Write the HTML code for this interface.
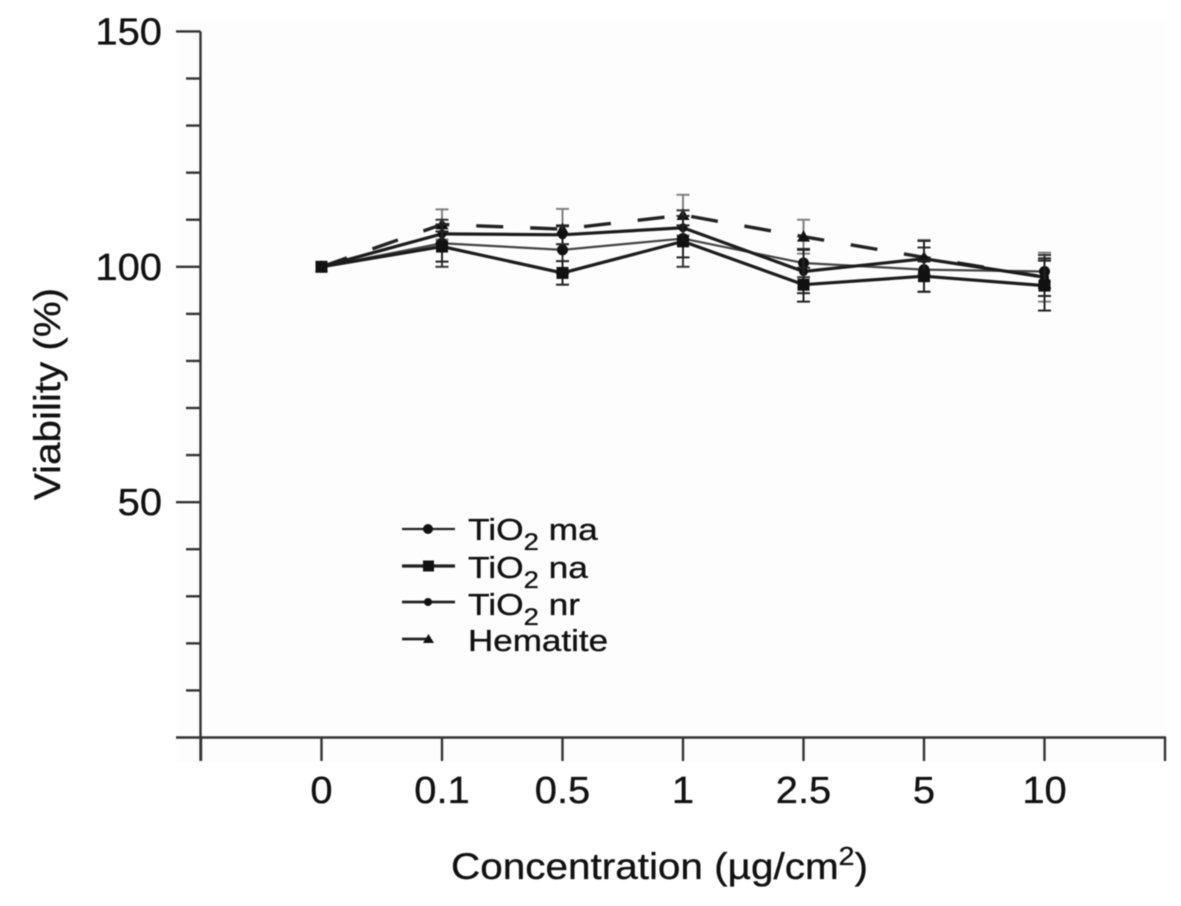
<!DOCTYPE html>
<html lang="en">
<head>
<meta charset="utf-8">
<title>Viability chart</title>
<style>
  html, body { margin: 0; padding: 0; background: #ffffff; }
  body { width: 1181px; height: 906px; overflow: hidden; }
  svg { display: block; filter: blur(0.6px); }
  text { font-family: "Liberation Sans", sans-serif; fill: #111; stroke: #111; stroke-width: 0.35px; }
</style>
</head>
<body>
<svg id="chart" xmlns="http://www.w3.org/2000/svg" width="1181" height="906" viewBox="0 0 1181 906">
  <rect x="176" y="20" width="992" height="742" fill="#fdfdfd"/>
  <g id="axes"></g>
  <g id="series"></g>

  <g stroke-linecap="butt">
    <g>
      <line x1="402" y1="529" x2="455" y2="529" stroke="#222" stroke-width="2.2"/>
      <circle cx="428" cy="529" r="5" fill="#111"/>
      <text transform="translate(468,540) scale(1.14,1)" font-size="31">TiO<tspan font-size="24" dy="10">2</tspan><tspan dy="-10"> ma</tspan></text>
    </g>
    <g>
      <line x1="402" y1="566" x2="455" y2="566" stroke="#222" stroke-width="3.2"/>
      <rect x="423" y="560.5" width="11" height="11" fill="#111"/>
      <text transform="translate(468,578) scale(1.14,1)" font-size="31">TiO<tspan font-size="24" dy="10">2</tspan><tspan dy="-10"> na</tspan></text>
    </g>
    <g>
      <line x1="402" y1="602" x2="455" y2="602" stroke="#222" stroke-width="2.8"/>
      <circle cx="428" cy="602" r="4" fill="#111"/>
      <text transform="translate(468,615) scale(1.14,1)" font-size="31">TiO<tspan font-size="24" dy="10">2</tspan><tspan dy="-10"> nr</tspan></text>
    </g>
    <g>
      <line x1="402" y1="639" x2="430" y2="639" stroke="#222" stroke-width="2.8"/>
      <polygon points="423,643 434,643 428.5,634" fill="#111"/>
      <text transform="translate(468,651) scale(1.13,1)" font-size="31">Hematite</text>
    </g>
  </g>

  <text transform="translate(451,879) scale(1.094,1)" font-size="37">Concentration (µg/cm<tspan font-size="26" dy="-14">2</tspan><tspan dy="14">)</tspan></text>
  <text transform="translate(60,500) rotate(-90) scale(1.09,1)" font-size="37">Viability (%)</text>
</svg>

<script>
const categories = ["0", "0.1", "0.5", "1", "2.5", "5", "10"];
const yMajorTicks = [50, 100, 150];
const yAllTicks = [0, 10, 20, 30, 40, 50, 60, 70, 80, 90, 100, 110, 120, 130, 140, 150];

const hematiteValues = [100, 109, 108, 111, 106.4, 102, 97.8];
const hematiteErrors = [0, 3.2, 4.3, 4.3, 3.6, 3.7, 5.2];
const maValues = [100, 105, 103.6, 106, 100.8, 99.4, 99];
const maErrors = [0, 5, 5, 6, 3, 4.7, 3.5];
const naValues = [100, 104.3, 98.7, 105.4, 96.2, 98, 96];
const naErrors = [0, 3.2, 2.5, 3.4, 3.6, 3.3, 5.3];
const nrValues = [100, 107, 106.8, 108.3, 99, 101.7, 97.8];
const nrErrors = [0, 2, 2, 2.5, 4.6, 3.8, 4];

const SVG_NS = "http://www.w3.org/2000/svg";
const axesGroup = document.getElementById("axes");
const seriesGroup = document.getElementById("series");

function xScale(index) { return 321.5 + index * 120.5; }
function yScale(value) { return 737.5 - value * 4.707; }

function make(tag, attrs, parent) {
  const el = document.createElementNS(SVG_NS, tag);
  for (const key in attrs) el.setAttribute(key, attrs[key]);
  parent.appendChild(el);
  return el;
}

/* Axes */
const axisStyle = { stroke: "#333", "stroke-width": 2.4 };
const yAxisLine = make("line", { x1: 200.5, y1: yScale(150), x2: 200.5, y2: 761, ...axisStyle }, axesGroup);


const xAxisLine = make("line", { x1: 176, y1: yScale(0), x2: 1166, y2: yScale(0), ...axisStyle }, axesGroup);



yAllTicks.forEach(function (v) {
  if (v === 0) return;
  const isMajor = yMajorTicks.includes(v);
  const tick = make("line", { x1: isMajor ? 176 : 186, y1: yScale(v), x2: 200.5, y2: yScale(v), ...axisStyle }, axesGroup);
  
  
});

yMajorTicks.forEach(function (v) {
  const label = make("text", { transform: "translate(162," + (yScale(v) + 13) + ") scale(1.05,1)", "font-size": 38, "text-anchor": "end" }, axesGroup);
  label.textContent = String(v);
  
  
});

[-1, 7].forEach(function (i) {
  const tick = make("line", { x1: xScale(i), y1: yScale(0), x2: xScale(i), y2: 761, ...axisStyle }, axesGroup);
  
  
});

categories.forEach(function (c, i) {
  const tick = make("line", { x1: xScale(i), y1: yScale(0), x2: xScale(i), y2: 761, ...axisStyle }, axesGroup);
  
  
  const label = make("text", { transform: "translate(" + xScale(i) + ",803) scale(1.05,1)", "font-size": 38, "text-anchor": "middle" }, axesGroup);
  label.textContent = c;
  
  
});

/* Series */
function drawErrors(values, errors, color, group) {
  values.forEach(function (v, i) {
    if (!errors[i]) return;
    const x = xScale(i);
    const top = yScale(v + errors[i]);
    const bottom = yScale(v - errors[i]);
    const style = { stroke: color, "stroke-width": 2 };
    make("line", { x1: x, y1: top, x2: x, y2: bottom, ...style }, group);
    make("line", { x1: x - 6.5, y1: top, x2: x + 6.5, y2: top, ...style }, group);
    make("line", { x1: x - 6.5, y1: bottom, x2: x + 6.5, y2: bottom, ...style }, group);
  });
}

function drawLine(values, width, color, dash, group) {
  const pts = values.map(function (v, i) { return xScale(i) + "," + yScale(v); }).join(" ");
  const attrs = { points: pts, fill: "none", stroke: color, "stroke-width": width, "stroke-linejoin": "miter" };
  if (dash) attrs["stroke-dasharray"] = dash;
  return make("polyline", attrs, group);
}

function drawMarker(kind, x, y, group) {
  if (kind === "circle") return make("circle", { cx: x, cy: y, r: 5.5, fill: "#111" }, group);
  if (kind === "square") return make("rect", { x: x - 6, y: y - 6, width: 12, height: 12, fill: "#111" }, group);
  if (kind === "dot") return make("circle", { cx: x, cy: y, r: 4.5, fill: "#111" }, group);
  return make("polygon", { points: (x - 6.5) + "," + (y + 5) + " " + (x + 6.5) + "," + (y + 5) + " " + x + "," + (y - 6.5), fill: "#111" }, group);
}

const hematiteGroup = make("g", {}, seriesGroup);


drawErrors(hematiteValues, hematiteErrors, "#808080", hematiteGroup);
drawLine(hematiteValues, 3.4, "#222", "27 27", hematiteGroup);
hematiteValues.forEach(function (v, i) { drawMarker("triangle", xScale(i), yScale(v), hematiteGroup); });

const maGroup = make("g", {}, seriesGroup);


drawErrors(maValues, maErrors, "#333", maGroup);
drawLine(maValues, 2.2, "#444", null, maGroup);
maValues.forEach(function (v, i) { drawMarker("circle", xScale(i), yScale(v), maGroup); });

const nrGroup = make("g", {}, seriesGroup);


drawErrors(nrValues, nrErrors, "#222", nrGroup);
drawLine(nrValues, 3.2, "#1c1c1c", null, nrGroup);
nrValues.forEach(function (v, i) { drawMarker("dot", xScale(i), yScale(v), nrGroup); });

const naGroup = make("g", {}, seriesGroup);


drawErrors(naValues, naErrors, "#222", naGroup);
drawLine(naValues, 3.2, "#1c1c1c", null, naGroup);
naValues.forEach(function (v, i) { drawMarker("square", xScale(i), yScale(v), naGroup); });
</script>
</body>
</html>
